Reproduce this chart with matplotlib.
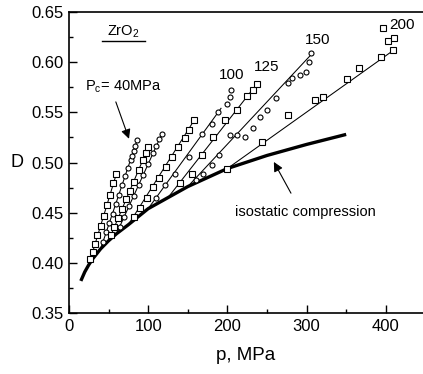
import matplotlib.pyplot as plt
import numpy as np

plt.rcParams['font.family'] = ['Liberation Sans', 'DejaVu Sans']

# isostatic compression curve
iso_p = [15, 20, 25, 30, 40, 50, 60, 75, 100, 125, 150, 200, 250, 300, 350]
iso_D = [0.382, 0.391, 0.398, 0.404, 0.414, 0.422, 0.429, 0.438, 0.454,
         0.465, 0.476, 0.494, 0.507, 0.518, 0.528]

# fitted lines: start on the isostatic curve at Pc, end at top point
pc = [25, 40, 50, 60, 75, 100, 125, 150, 200]
pc_D = [0.398, 0.414, 0.422, 0.429, 0.438, 0.454, 0.465, 0.476, 0.494]
end_p = [60, 86, 100, 117, 158, 192, 237, 304, 410]
end_D = [0.489, 0.522, 0.515, 0.528, 0.542, 0.554, 0.578, 0.606, 0.612]

# measured points per Pc
p_A = [27, 30, 33, 36, 40, 44, 48, 52, 56, 60]
D_A = [0.404, 0.411, 0.419, 0.428, 0.437, 0.447, 0.458, 0.468, 0.480, 0.489]
p_B = [43, 47, 51, 55, 59, 63, 67, 71, 75, 78, 80, 82, 84, 86]
D_B = [0.421, 0.431, 0.440, 0.449, 0.459, 0.468, 0.478, 0.487, 0.495, 0.502,
       0.506, 0.511, 0.516, 0.522]
p_C = [53, 57, 62, 67, 72, 77, 82, 88, 93, 97, 100]
D_C = [0.428, 0.436, 0.445, 0.454, 0.464, 0.472, 0.481, 0.493, 0.502, 0.509, 0.515]
p_D = [64, 70, 76, 82, 88, 94, 100, 106, 110, 114, 117]
D_D = [0.436, 0.446, 0.457, 0.467, 0.478, 0.488, 0.499, 0.509, 0.516, 0.523, 0.528]
p_E = [82, 90, 98, 106, 114, 122, 130, 138, 146, 152, 158]
D_E = [0.446, 0.455, 0.465, 0.476, 0.485, 0.496, 0.505, 0.515, 0.524, 0.532, 0.542]
p_F = [110, 121, 134, 151, 168, 180, 188, 200, 203, 205]
D_F = [0.465, 0.478, 0.489, 0.505, 0.528, 0.538, 0.550, 0.558, 0.565, 0.572]
p_G = [140, 155, 168, 182, 197, 212, 225, 232, 237]
D_G = [0.480, 0.489, 0.507, 0.525, 0.542, 0.552, 0.566, 0.572, 0.578]
p_H = [160, 169, 180, 190, 203, 212, 222, 232, 241, 250, 261, 276, 282, 292, 299, 303, 305]
D_H = [0.483, 0.489, 0.498, 0.507, 0.527, 0.527, 0.525, 0.534, 0.545, 0.552,
       0.564, 0.579, 0.584, 0.587, 0.590, 0.600, 0.609]
p_I = [200, 244, 276, 311, 321, 351, 366, 394, 403, 409, 410, 396]
D_I = [0.494, 0.520, 0.547, 0.562, 0.565, 0.583, 0.594, 0.605, 0.621, 0.612, 0.624, 0.634]

series = [(p_A, D_A, 's'), (p_B, D_B, 'o'), (p_C, D_C, 's'), (p_D, D_D, 'o'),
          (p_E, D_E, 's'), (p_F, D_F, 'o'), (p_G, D_G, 's'), (p_H, D_H, 'o'),
          (p_I, D_I, 's')]

fig = plt.figure(figsize=(4.23, 3.74), dpi=100)
ax = fig.add_axes([0.163, 0.163, 0.837, 0.805])

for i in range(len(pc)):
    ax.plot([pc[i], end_p[i]], [pc_D[i], end_D[i]], color='black', lw=0.75, zorder=2)

ax.plot(iso_p, iso_D, color='black', lw=2.4, solid_capstyle='butt', zorder=3)

for p, D, m in series:
    ax.plot(p, D, linestyle='none', marker=m, ms=3.8 if m == 's' else 3.6,
            mfc='white', mec='black', mew=0.8, zorder=4)

ax.set_xlim(0, 447)
ax.set_ylim(0.35, 0.65)
ax.set_xticks(np.arange(0, 401, 100))
ax.set_xticks(np.arange(50, 401, 100), minor=True)
ax.set_yticks(np.arange(0.35, 0.651, 0.05))
ax.set_yticks(np.arange(0.375, 0.65, 0.05), minor=True)
ax.set_yticklabels(['0.35', '0.40', '0.45', '0.50', '0.55', '0.60', '0.65'])
ax.tick_params(direction='in', length=6, width=1, labelsize=12, pad=4)
ax.tick_params(which='minor', direction='in', length=3, width=1)
ax.spines['right'].set_visible(False)
for s in ['left', 'bottom', 'top']:
    ax.spines[s].set_linewidth(1.2)

ax.set_xlabel('p, MPa', fontsize=13.5, labelpad=10)
ax.set_ylabel('D', fontsize=13, rotation=0, labelpad=10, va='center')

# ZrO2 label with underline
ax.text(68, 0.630, r'ZrO$\mathregular{_2}$', fontsize=10.5, ha='center', va='center')
ax.plot([42, 96], [0.621, 0.621], color='black', lw=1.0)

ax.text(20, 0.575, r'$\mathregular{P_c}$= 40MPa', fontsize=10.5, ha='left', va='center')
ax.annotate('', xy=(77, 0.521), xytext=(58, 0.563),
            arrowprops=dict(arrowstyle='-|>', color='black', lw=0.8, mutation_scale=14))
ax.text(205, 0.587, '100', fontsize=11, ha='center', va='center')
ax.text(250, 0.595, '125', fontsize=11, ha='center', va='center')
ax.text(314, 0.622, '150', fontsize=11, ha='center', va='center')
ax.text(421, 0.637, '200', fontsize=11, ha='center', va='center')
ax.text(299, 0.451, 'isostatic compression', fontsize=10.5, ha='center', va='center')
ax.annotate('', xy=(257, 0.503), xytext=(282, 0.467),
            arrowprops=dict(arrowstyle='-|>', color='black', lw=0.8, mutation_scale=14))

fig.savefig('out.png', dpi=100)
